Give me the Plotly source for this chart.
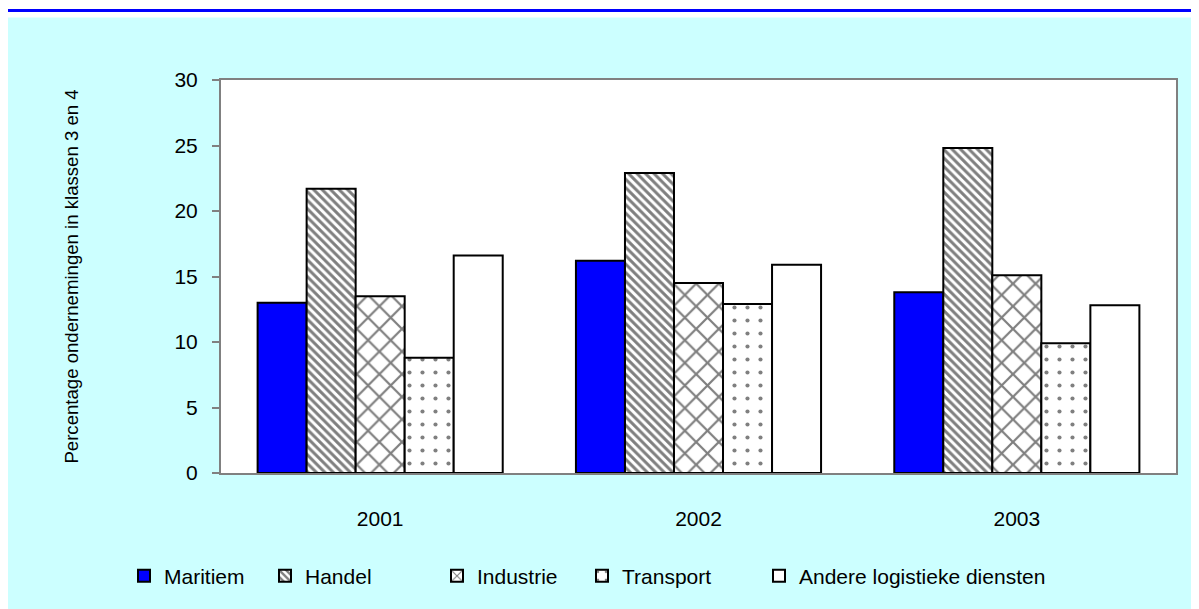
import plotly.graph_objects as go

years = ["2001", "2002", "2003"]
series_names = ["Maritiem", "Handel", "Industrie", "Transport", "Andere logistieke diensten"]
maritiem = [13.0, 16.2, 13.8]
handel = [21.7, 22.9, 24.8]
industrie = [13.5, 14.5, 15.1]
transport = [8.8, 12.9, 9.9]
andere = [16.6, 15.9, 12.8]
y_ticks = [0, 5, 10, 15, 20, 25, 30]

values = [maritiem, handel, industrie, transport, andere]
styles = [
    dict(color="#0000FF"),
    dict(color="white", pattern=dict(shape="\\", fgcolor="black", bgcolor="white", size=6, solidity=0.5)),
    dict(color="white", pattern=dict(shape="x", fgcolor="black", bgcolor="white", size=16, solidity=0.26)),
    dict(color="white", pattern=dict(shape=".", fgcolor="black", bgcolor="white", size=13, solidity=0.08)),
    dict(color="white"),
]

OFF = 8  # body margin of the html page
W, H = 1199 - OFF, 609 - OFF
L, R, T, B = 221 - OFF, 1176 - OFF, 80 - OFF, 476 - OFF
pw, ph = R - L, B - T

def px_x(p):
    return (p - OFF - L) / pw

def px_y(p):
    return (B - (p - OFF)) / ph

FONT = "Liberation Sans, Arial, sans-serif"

fig = go.Figure()
legend_names = ["legend", "legend2", "legend3", "legend4", "legend5"]
for name, vals, st, lg in zip(series_names, values, styles, legend_names):
    fig.add_trace(go.Bar(
        x=years, y=vals, name=name,
        marker=dict(line=dict(color="black", width=2), **st),
        legend=lg,
    ))

legend_x = [124, 265, 437, 582, 759]
leg_common = dict(orientation="h", yanchor="middle", xanchor="left",
                  bgcolor="rgba(0,0,0,0)", borderwidth=0,
                  font=dict(family=FONT, size=21, color="black"))
for lg, lx in zip(legend_names, legend_x):
    fig.update_layout(**{lg: dict(x=px_x(lx), y=px_y(580), **leg_common)})

fig.update_layout(
    width=W, height=H,
    margin=dict(l=L, r=W - R, t=T, b=H - B, pad=0),
    paper_bgcolor="#CCFFFF",
    plot_bgcolor="white",
    bargap=0.23, bargroupgap=0,
    showlegend=True,
    font=dict(family=FONT, size=21, color="black"),
    xaxis=dict(
        showline=True, linecolor="#808080", linewidth=2, mirror=True,
        ticks="", ticklabelstandoff=26,
        tickfont=dict(family=FONT, size=21, color="black"),
    ),
    yaxis=dict(
        range=[0, 30], tickvals=y_ticks, showgrid=False, zeroline=False,
        showline=True, linecolor="#808080", linewidth=2, mirror=True,
        ticks="outside", ticklen=7, tickcolor="#808080", tickwidth=2,
        ticklabelstandoff=10,
        tickfont=dict(family=FONT, size=21, color="black"),
        title=dict(text="Percentage ondernemingen in klassen 3 en 4",
                   font=dict(family=FONT, size=18.6, color="black"), standoff=91),
    ),
    shapes=[
        dict(type="rect", xref="paper", yref="paper", x0=px_x(0), x1=px_x(1210),
             y0=px_y(17), y1=px_y(-2), fillcolor="white", line=dict(width=0), layer="below"),
        dict(type="line", xref="paper", yref="paper", x0=px_x(5), x1=px_x(1210),
             y0=px_y(10), y1=px_y(10), line=dict(color="#0000FF", width=3), layer="below"),
    ],
)

fig.write_html("out.html")
